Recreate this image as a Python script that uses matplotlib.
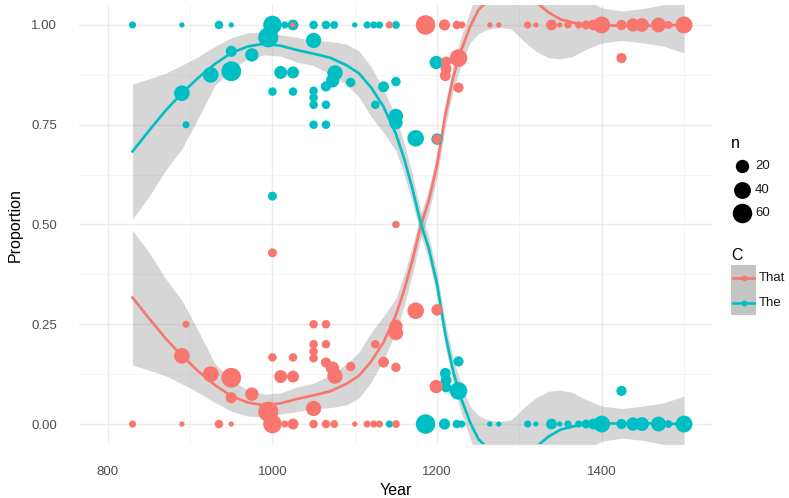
import numpy as np
import matplotlib
matplotlib.use("Agg")
import matplotlib.pyplot as plt
from matplotlib.lines import Line2D
from matplotlib.patches import Rectangle

plt.rcParams['font.family'] = ['Liberation Sans', 'DejaVu Sans']

# Observations: year, share of "The" (the rest is "That"), token count
year = [830, 890, 935, 950, 1000, 1015, 1025, 1050, 1065, 1075, 1100, 1115, 1123, 1130, 1150,
        890, 895, 925, 950, 950, 975, 995, 1000, 1000, 1010, 1025, 1025,
        1050, 1050, 1050, 1050, 1050, 1065, 1065, 1065, 1073, 1076, 1095, 1125, 1135,
        1150, 1150, 1150, 1150, 1174, 1199, 1200, 1200, 1210, 1211, 1211, 1226, 1226, 1424,
        1025, 1142, 1186, 1209, 1224, 1230, 1264, 1275, 1310, 1320, 1339, 1349, 1359,
        1372, 1381, 1390, 1400, 1424, 1438, 1449, 1469, 1481, 1500]
prop_the = [1, 1, 1, 1, 1, 1, 1, 1, 1, 1, 1, 1, 1, 1, 1,
            0.829, 0.750, 0.875, 0.884, 0.934, 0.925, 0.969, 0.833, 0.571, 0.881, 0.881, 0.833,
            0.961, 0.835, 0.818, 0.800, 0.750, 0.846, 0.800, 0.750, 0.860, 0.880, 0.856, 0.800, 0.845,
            0.858, 0.772, 0.755, 0.500, 0.716, 0.906, 0.714, 0.286, 0.127, 0.110, 0.092, 0.157, 0.083, 0.083,
            0, 0, 0, 0, 0, 0, 0, 0, 0, 0, 0, 0, 0,
            0, 0, 0, 0, 0, 0, 0, 0, 0, 0]
n_tokens = [2, 1, 4, 1, 52, 2, 10, 4, 4, 3, 1, 2, 2, 2, 3,
            32, 2, 33, 62, 11, 20, 65, 4, 5, 18, 14, 4,
            30, 4, 4, 4, 4, 8, 4, 4, 20, 30, 6, 4, 10,
            6, 25, 20, 2, 38, 20, 12, 6, 10, 10, 8, 8, 45, 8,
            1, 2, 60, 11, 4, 2, 1, 1, 2, 1, 10, 1, 2,
            2, 5, 10, 40, 8, 20, 22, 28, 3, 40]

# Loess fit for "The" and its confidence band ("That" is the complement)
fit_year = [830, 850, 870, 890, 910, 930, 950, 970, 990, 1010, 1030, 1050, 1070, 1090, 1105,
            1120, 1135, 1150, 1160, 1170, 1180, 1190, 1200, 1210, 1220, 1230, 1240, 1250, 1260,
            1275, 1290, 1305, 1320, 1335, 1350, 1365, 1380, 1400, 1425, 1450, 1475, 1500]
fit_the = [0.683, 0.735, 0.785, 0.829, 0.868, 0.902, 0.930, 0.946, 0.953, 0.948, 0.937, 0.928, 0.918,
           0.899, 0.879, 0.843, 0.795, 0.727, 0.665, 0.590, 0.505, 0.440, 0.350, 0.225, 0.128, 0.060,
           0.005, -0.037, -0.058, -0.077, -0.085, -0.078, -0.058, -0.032, -0.014, -0.006, -0.001,
           0.001, 0.002, 0.002, 0.001, 0.000]
band_hi = [0.852, 0.865, 0.879, 0.899, 0.921, 0.946, 0.968, 0.980, 0.982, 0.975, 0.969, 0.961, 0.959,
           0.952, 0.935, 0.895, 0.838, 0.770, 0.705, 0.625, 0.535, 0.470, 0.380, 0.255, 0.160, 0.095,
           0.045, 0.022, 0.012, 0.006, 0.010, 0.040, 0.066, 0.082, 0.085, 0.079, 0.062,
           0.045, 0.039, 0.045, 0.053, 0.070]
band_lo = [0.514, 0.570, 0.635, 0.690, 0.767, 0.848, 0.889, 0.915, 0.925, 0.922, 0.907, 0.898, 0.877,
           0.850, 0.820, 0.770, 0.730, 0.685, 0.625, 0.555, 0.475, 0.410, 0.320, 0.195, 0.095, 0.025,
           -0.035, -0.096, -0.128, -0.160, -0.180, -0.196, -0.182, -0.146, -0.113, -0.091, -0.064,
           -0.043, -0.035, -0.041, -0.051, -0.070]

size_breaks = [20, 40, 60]
groups = ['That', 'The']
COL_THAT = '#F8766D'
COL_THE = '#00BFC4'
BAND = '#999999'
LINE_W = 1.9

W, H = 789, 498


def marker_area(n):
    """Scatter area (pt^2) for a token count, area-style size scale."""
    d_px = 5.3 + 1.85 * np.sqrt(np.maximum(np.asarray(n, float) - 1, 0))
    return (d_px * 0.72) ** 2


def fx(px):
    return px / W


def fy(py):
    return 1 - py / H


year_a = np.array(year, float)
the_a = np.array(prop_the, float)
n_a = np.array(n_tokens, float)
fy_a = np.array(fit_year, float)
fit_a = np.array(fit_the, float)
lo_a = np.array(band_lo, float)
hi_a = np.array(band_hi, float)

fig = plt.figure(figsize=(W / 100, H / 100), dpi=100)
ax = fig.add_axes([fx(79), fy(444), (712 - 79) / W, (444 - 5) / H])

# smoothers: "That" first, then "The"
ax.fill_between(fy_a, 1 - hi_a, 1 - lo_a, color=BAND, alpha=0.4, lw=0, zorder=2)
ax.plot(fy_a, 1 - fit_a, color=COL_THAT, lw=LINE_W, zorder=2)
ax.fill_between(fy_a, lo_a, hi_a, color=BAND, alpha=0.4, lw=0, zorder=2)
ax.plot(fy_a, fit_a, color=COL_THE, lw=LINE_W, zorder=2)

# points
ax.scatter(year_a, the_a, s=marker_area(n_a), c=COL_THE, lw=0, zorder=3)
ax.scatter(year_a, 1 - the_a, s=marker_area(n_a), c=COL_THAT, lw=0, zorder=4)

ax.set_xlim(765, 1534)
ax.set_ylim(-0.05, 1.05)
ax.set_xticks([800, 1000, 1200, 1400])
ax.set_xticks([900, 1100, 1300, 1500], minor=True)
ax.set_yticks([0, 0.25, 0.5, 0.75, 1.0])
ax.set_yticklabels(['0.00', '0.25', '0.50', '0.75', '1.00'])
ax.set_yticks([0.125, 0.375, 0.625, 0.875], minor=True)
ax.grid(which='major', color='#EBEBEB', lw=1.0)
ax.grid(which='minor', color='#F4F4F4', lw=0.7)
ax.set_axisbelow(True)
for s in ax.spines.values():
    s.set_visible(False)
ax.tick_params(which='both', length=0)
ax.tick_params(axis='y', pad=16, labelsize=9.5, labelcolor='#4D4D4D')
ax.tick_params(axis='x', pad=16, labelsize=9.5, labelcolor='#4D4D4D')

fig.text(fx(395.5), fy(490), 'Year', ha='center', va='center', fontsize=11.5, color='black')
fig.text(fx(15), fy(225), 'Proportion', ha='center', va='center', rotation=90,
         fontsize=11.5, color='black')

# size legend
fig.text(fx(731), fy(143), 'n', ha='left', va='center', fontsize=11.5)
for yy, nb in zip([166, 190, 213], size_breaks):
    d_pt = np.sqrt(marker_area(nb))
    fig.add_artist(Line2D([fx(742)], [fy(yy)], marker='o', markersize=d_pt, color='black',
                          markeredgewidth=0, linestyle='none', transform=fig.transFigure))
    fig.text(fx(755), fy(yy), str(nb), ha='left', va='center', fontsize=9.5, color='#1A1A1A')

# colour legend
fig.text(fx(731), fy(255), 'C', ha='left', va='center', fontsize=11.5)
fig.add_artist(Rectangle((fx(731), fy(315)), fx(756) - fx(731), fy(265) - fy(315),
                         transform=fig.transFigure, facecolor='#C4C4C4', edgecolor='none'))
for yy, lab, col in zip([278, 303], groups, [COL_THAT, COL_THE]):
    fig.add_artist(Line2D([fx(733), fx(754)], [fy(yy), fy(yy)], color=col, lw=LINE_W,
                          transform=fig.transFigure))
    fig.add_artist(Line2D([fx(743.5)], [fy(yy)], marker='o', markersize=4.2, color=col,
                          markeredgewidth=0, linestyle='none', transform=fig.transFigure))
    fig.text(fx(759), fy(yy), lab, ha='left', va='center', fontsize=9.5, color='#1A1A1A')

fig.savefig('out.png', dpi=100)
